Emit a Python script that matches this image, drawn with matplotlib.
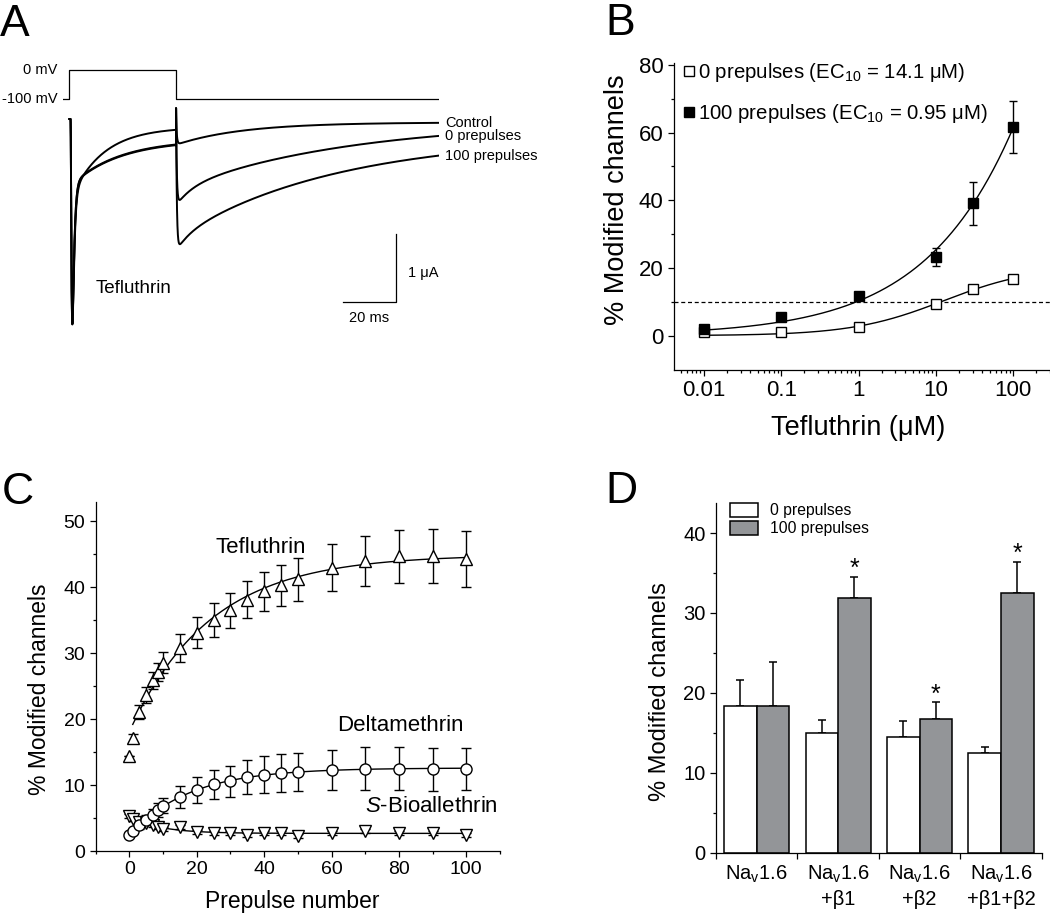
import numpy as np
import matplotlib
matplotlib.use("Agg")
import matplotlib.pyplot as plt
from matplotlib.lines import Line2D
from matplotlib.patches import Patch
from matplotlib.ticker import FixedLocator, NullFormatter, FixedFormatter, LogLocator

plt.rcParams['font.family'] = ['Liberation Sans', 'DejaVu Sans']
plt.rcParams['mathtext.fontset'] = 'custom'
plt.rcParams['mathtext.rm'] = 'Liberation Sans'
plt.rcParams['mathtext.it'] = 'Liberation Sans:italic'
plt.rcParams['mathtext.bf'] = 'Liberation Sans:bold'
plt.rcParams['axes.linewidth'] = 0.9

# ---------------- DATA ----------------
# Panel A: voltage protocol (ms, mV)
prot_t = [-2.4, 0, 0, 40, 40, 138.6]
prot_v = [-100, -100, 0, 0, -100, -100]
# Panel A: current trace parameters (uA, ms)
trace_names = ['Control', '0 prepulses', '100 prepulses']
peak_current = [-3.0, -3.0, -3.0]
pulse_persist = [0.12, 0.30, 0.31]
pulse_slow_amp = [1.10, 0.70, 0.70]
pulse_slow_tau = [12.0, 18.0, 18.0]
tail_offset = [0.05, 0.03, 0.25]
tail_fast_amp = [0.00, 0.25, 0.20]
tail_fast_tau = [5.0, 6.0, 5.0]
tail_slow_amp = [0.33, 1.00, 1.50]
tail_slow_tau = [25.0, 65.0, 60.0]
pulse_end = 40.0
t_end = 138.6
scale_ms = 20
scale_ua = 1

# Panel B
conc = [0.01, 0.1, 1, 10, 30, 100]
mod0 = [1.0, 1.2, 2.5, 9.4, 13.7, 16.8]
mod0_err = [0.3, 0.3, 0.4, 0.5, 0.6, 0.6]
mod100 = [2.0, 5.6, 11.8, 23.3, 39.1, 61.7]
mod100_err = [0.6, 0.7, 1.0, 2.6, 6.3, 7.7]
ec_threshold = 10

# Panel C
pp_x = [0, 1, 3, 5, 7, 8.5, 10, 15, 20, 25, 30, 35, 40, 45, 50, 60, 70, 80, 90, 100]
teflu = [14.4, 17.1, 21.1, 23.7, 25.9, 27.2, 28.6, 30.8, 33.1, 35.0, 36.5, 38.1, 39.4, 40.3, 41.2, 43.0, 44.0, 44.7, 44.7, 44.3]
teflu_err = [0.0, 0.6, 1.0, 1.2, 1.3, 1.4, 1.6, 2.1, 2.35, 2.6, 2.65, 2.8, 3.0, 3.1, 3.3, 3.55, 3.8, 4.05, 4.1, 4.25]
delta = [2.5, 3.0, 3.9, 4.7, 5.5, 6.2, 6.9, 8.2, 9.3, 10.1, 10.6, 11.2, 11.6, 11.85, 12.0, 12.3, 12.5, 12.5, 12.4, 12.4]
delta_err = [0.2, 0.3, 0.5, 0.7, 0.9, 1.1, 1.2, 1.6, 2.0, 2.2, 2.35, 2.6, 2.8, 2.85, 2.9, 3.1, 3.25, 3.3, 3.3, 3.2]
sbio = [5.3, 4.8, 4.4, 4.2, 3.9, 3.6, 3.3, 3.6, 2.9, 2.7, 2.8, 2.5, 2.7, 2.7, 2.3, 2.8, 3.0, 2.8, 2.8, 2.5]
sbio_err = [0.3, 0.3, 0.3, 0.3, 0.3, 0.3, 0.3, 0.3, 0.3, 0.3, 0.3, 0.3, 0.3, 0.3, 0.3, 0.3, 0.3, 0.3, 0.3, 0.3]

# Panel D
groups = ['Na$_\\mathrm{v}$1.6', 'Na$_\\mathrm{v}$1.6\n+β1', 'Na$_\\mathrm{v}$1.6\n+β2', 'Na$_\\mathrm{v}$1.6\n+β1+β2']
zero_pp = [18.3, 15.0, 14.5, 12.5]
zero_pp_err = [3.3, 1.6, 2.0, 0.75]
hundred_pp = [18.3, 31.85, 16.7, 32.5]
hundred_pp_err = [5.6, 2.7, 2.1, 3.9]
signif = [False, True, True, True]

# ---------------- FIGURE ----------------
W, H = 1050, 914
fig = plt.figure(figsize=(W / 100, H / 100), dpi=100)


def axes_px(x0, y0, x1, y1):
    return fig.add_axes([x0 / W, 1 - y1 / H, (x1 - x0) / W, (y1 - y0) / H])


def style_axes(ax, fs):
    for s in ('top', 'right'):
        ax.spines[s].set_visible(False)
    ax.tick_params(which='major', direction='out', length=4.5, width=0.9, labelsize=fs, pad=3)
    ax.tick_params(which='minor', direction='out', length=2.5, width=0.9)


def hill_fit(x, y):
    x = np.asarray(x, float)
    y = np.asarray(y, float)
    ns = np.linspace(0.2, 2.0, 181)[:, None, None]
    lks = np.linspace(-2, 5, 351)[None, :, None]
    K = 10.0 ** lks
    f = x ** ns / (K ** ns + x ** ns)
    emax = (f * y).sum(-1) / (f * f).sum(-1)
    sse = ((emax[..., None] * f - y) ** 2).sum(-1)
    i, j = np.unravel_index(np.argmin(sse), sse.shape)
    return emax[i, j], 10.0 ** lks[0, j, 0], ns[i, 0, 0]


def exp_fit(x, y):
    x = np.asarray(x, float)
    y = np.asarray(y, float)
    best = None
    for tau in np.linspace(0.5, 100, 1991):
        A = np.column_stack([np.ones_like(x), np.exp(-x / tau)])
        coef, *_ = np.linalg.lstsq(A, y, rcond=None)
        sse = ((A @ coef - y) ** 2).sum()
        if best is None or sse < best[0]:
            best = (sse, coef[0], coef[1], tau)
    return best[1:]


# ---------------- PANEL A ----------------
axp = axes_px(63, 60, 439, 105)
axp.plot(prot_t, prot_v, color='black', lw=0.9)
axp.set_xlim(-2.4, 138.6)
axp.set_ylim(-119.5, 34)
axp.axis('off')
axp.text(-4.6, 0, '0 mV', ha='right', va='center', fontsize=10.5)
axp.text(-4.6, -100, '-100 mV', ha='right', va='center', fontsize=10.5)

axa = axes_px(63, 100, 439, 340)
axa.set_xlim(-2.4, 138.6)
axa.set_ylim(-3.264, 0.281)
axa.axis('off')

act_delay, tau_m, tau_h = 0.4, 0.35, 0.6
tau_tail_on, cap_amp, cap_tau = 0.3, 0.16, 0.08
for i in range(3):
    tp = np.arange(0.0, pulse_end + 1e-9, 0.02)
    td = np.maximum(tp - act_delay, 0)
    m3 = (1 - np.exp(-td / tau_m)) ** 3
    slow = pulse_slow_amp[i] * np.exp(-tp / pulse_slow_tau[i]) + pulse_persist[i]
    fshape = m3 * np.exp(-td / tau_h)
    k = np.argmax(fshape)
    a = (abs(peak_current[i]) - slow[k] * m3[k]) / fshape[k]
    i_pulse = -(a * fshape + slow * m3)
    tt = np.arange(0.0, t_end - pulse_end, 0.02)
    tail = (tail_offset[i] + tail_fast_amp[i] * np.exp(-tt / tail_fast_tau[i])
            + tail_slow_amp[i] * np.exp(-tt / tail_slow_tau[i]))
    i_tail = -tail * (1 - np.exp(-tt / tau_tail_on)) + cap_amp * np.exp(-tt / cap_tau)
    t_all = np.concatenate([tp, pulse_end + tt])
    i_all = np.concatenate([i_pulse, i_tail])
    axa.plot(t_all, i_all, color='black', lw=1.4)
    axa.text(141, i_tail[-1], trace_names[i], ha='left', va='center', fontsize=10.5, clip_on=False)

# scale bar
sb_t, sb_i = 122.5, -2.70
axa.plot([sb_t - scale_ms, sb_t, sb_t], [sb_i, sb_i, sb_i + scale_ua], color='black', lw=0.9)
axa.text(sb_t + 4.5, sb_i + 0.43, '1 μA', ha='left', va='center', fontsize=10.5)
axa.text(sb_t - scale_ms / 2, sb_i - 0.24, '20 ms', ha='center', va='center', fontsize=10.5)
axa.text(10, -2.50, 'Tefluthrin', ha='left', va='center', fontsize=13.5)

# ---------------- PANEL B ----------------
axb = axes_px(674, 63.3, 1050, 369.5)
style_axes(axb, 16)
axb.set_xscale('log')
axb.set_xlim(0.0041, 300)
axb.set_ylim(-10, 80.5)
axb.axhline(ec_threshold, color='black', lw=0.9, ls=(0, (3.2, 2.2)))
xs = np.logspace(np.log10(conc[0]), np.log10(conc[-1]), 300)
for y, e, fc in ((mod0, mod0_err, 'white'), (mod100, mod100_err, 'black')):
    em, K, n = hill_fit(conc, y)
    axb.plot(xs, em * xs ** n / (K ** n + xs ** n), color='black', lw=1.0, zorder=2)
    axb.errorbar(conc, y, yerr=e, fmt='s', ms=7.5, mfc=fc, mec='black', mew=1.0,
                 ecolor='black', elinewidth=1.0, capsize=3.2, capthick=1.0, zorder=3)
axb.xaxis.set_major_locator(FixedLocator([0.01, 0.1, 1, 10, 100]))
axb.xaxis.set_major_formatter(FixedFormatter(['0.01', '0.1', '1', '10', '100']))
axb.xaxis.set_minor_locator(LogLocator(base=10, subs=np.arange(2, 10)))
axb.xaxis.set_minor_formatter(NullFormatter())
axb.yaxis.set_major_locator(FixedLocator([0, 20, 40, 60, 80]))
axb.yaxis.set_minor_locator(FixedLocator([10, 30, 50, 70]))
axb.set_xlabel('Tefluthrin (μM)', fontsize=19.5)
axb.set_ylabel('% Modified channels', fontsize=19.5)
axb.yaxis.set_label_coords(-0.1516, 0.5535)
axb.yaxis.label.set_va('center')
axb.xaxis.set_label_coords(0.489, -0.191)
axb.xaxis.label.set_va('center')
hb = [Line2D([], [], marker='s', ls='none', ms=7.5, mfc='white', mec='black', mew=1.0),
      Line2D([], [], marker='s', ls='none', ms=7.5, mfc='black', mec='black', mew=1.0)]
fig.legend(hb, ['0 prepulses (EC$_\\mathrm{10}$ = 14.1 μM)', '100 prepulses (EC$_\\mathrm{10}$ = 0.95 μM)'],
           loc='upper left', bbox_to_anchor=(683 / W, 1 - 61 / H), frameon=False,
           fontsize=14.7, handlelength=0.6, handletextpad=0.15, borderpad=0,
           borderaxespad=0, labelspacing=0.9)

# ---------------- PANEL C ----------------
axc = axes_px(95.7, 501.7, 500, 851)
style_axes(axc, 14)
axc.set_xlim(-10, 110)
axc.set_ylim(0, 53)
ppx = np.asarray(pp_x, float)
xf = np.linspace(1, 100, 400)
A, B, tau = exp_fit(ppx[1:], np.asarray(teflu)[1:])
axc.plot(xf, A + B * np.exp(-xf / tau), color='black', lw=1.0, zorder=2)
xf0 = np.linspace(0, 100, 400)
for y in (delta, sbio):
    A, B, tau = exp_fit(ppx, np.asarray(y))
    axc.plot(xf0, A + B * np.exp(-xf0 / tau), color='black', lw=1.0, zorder=2)
for y, e, mk, ms in ((sbio, sbio_err, 'v', 9), (delta, delta_err, 'o', 8), (teflu, teflu_err, '^', 9)):
    axc.errorbar(pp_x, y, yerr=e, fmt=mk, ms=ms, mfc='white', mec='black', mew=1.0,
                 ecolor='black', elinewidth=1.0, capsize=3.8, capthick=1.0, zorder=3)
axc.xaxis.set_major_locator(FixedLocator([0, 20, 40, 60, 80, 100]))
axc.xaxis.set_minor_locator(FixedLocator([-10, 10, 30, 50, 70, 90, 110]))
axc.yaxis.set_major_locator(FixedLocator([0, 10, 20, 30, 40, 50]))
axc.yaxis.set_minor_locator(FixedLocator([5, 15, 25, 35, 45]))
axc.set_xlabel('Prepulse number', fontsize=16.5)
axc.set_ylabel('% Modified channels', fontsize=16.5)
axc.yaxis.set_label_coords(-0.140, 0.464)
axc.yaxis.label.set_va('center')
axc.xaxis.set_label_coords(0.485, -0.145)
axc.xaxis.label.set_va('center')
axc.text(39, 46.0, 'Tefluthrin', ha='center', va='center', fontsize=16)
axc.text(80.3, 19.1, 'Deltamethrin', ha='center', va='center', fontsize=16)
axc.text(109.5, 6.7, '$\\mathit{S}$-Bioallethrin', ha='right', va='center', fontsize=16)

# ---------------- PANEL D ----------------
axd = axes_px(716, 502.7, 1041.7, 852.5)
style_axes(axd, 14.5)
axd.set_xlim(-0.5, 3.5)
axd.set_ylim(0, 43.8)
gx = np.arange(len(groups))
bw = 0.40
axd.bar(gx - bw / 2, zero_pp, bw, color='white', edgecolor='black', lw=1.1, zorder=2)
axd.bar(gx + bw / 2, hundred_pp, bw, color='#939598', edgecolor='black', lw=1.1, zorder=2)
axd.errorbar(gx - bw / 2, zero_pp, yerr=[np.zeros(4), zero_pp_err], fmt='none', ecolor='black',
             elinewidth=1.1, capsize=3.2, capthick=1.1, zorder=1)
axd.errorbar(gx + bw / 2, hundred_pp, yerr=[np.zeros(4), hundred_pp_err], fmt='none', ecolor='black',
             elinewidth=1.1, capsize=3.2, capthick=1.1, zorder=1)
for g in range(len(groups)):
    if signif[g]:
        axd.annotate('*', (gx[g] + bw / 2, hundred_pp[g] + hundred_pp_err[g]), xytext=(0, 0.5),
                     textcoords='offset points', ha='center', va='baseline', fontsize=18)
axd.xaxis.set_major_locator(FixedLocator([-0.5, 0.5, 1.5, 2.5, 3.5]))
axd.xaxis.set_major_formatter(NullFormatter())
axd.xaxis.set_minor_locator(FixedLocator(list(gx)))
axd.xaxis.set_minor_formatter(FixedFormatter(groups))
axd.tick_params(axis='x', which='minor', length=0, labelsize=14.5, pad=8)
for lbl in axd.xaxis.get_minorticklabels():
    lbl.set_linespacing(1.35)
axd.yaxis.set_major_locator(FixedLocator([0, 10, 20, 30, 40]))
axd.yaxis.set_minor_locator(FixedLocator([5, 15, 25, 35]))
axd.set_ylabel('% Modified channels', fontsize=17)
axd.yaxis.set_label_coords(-0.172, 0.459)
axd.yaxis.label.set_va('center')
hd = [Patch(facecolor='white', edgecolor='black', lw=1.1),
      Patch(facecolor='#939598', edgecolor='black', lw=1.1)]
fig.legend(hd, ['0 prepulses', '100 prepulses'], loc='upper left',
           bbox_to_anchor=(730 / W, 1 - 503 / H), frameon=False, fontsize=11.3,
           handlelength=1.78, handleheight=1.02, handletextpad=0.78, borderpad=0,
           borderaxespad=0, labelspacing=0.15)

# ---------------- PANEL LETTERS ----------------
for lab, x, yb in (('A', 0, 36), ('B', 605, 35), ('C', 2, 504), ('D', 605, 503)):
    fig.text(x / W, 1 - yb / H, lab, fontsize=32, ha='left', va='baseline')

fig.savefig('out.png', dpi=100)
